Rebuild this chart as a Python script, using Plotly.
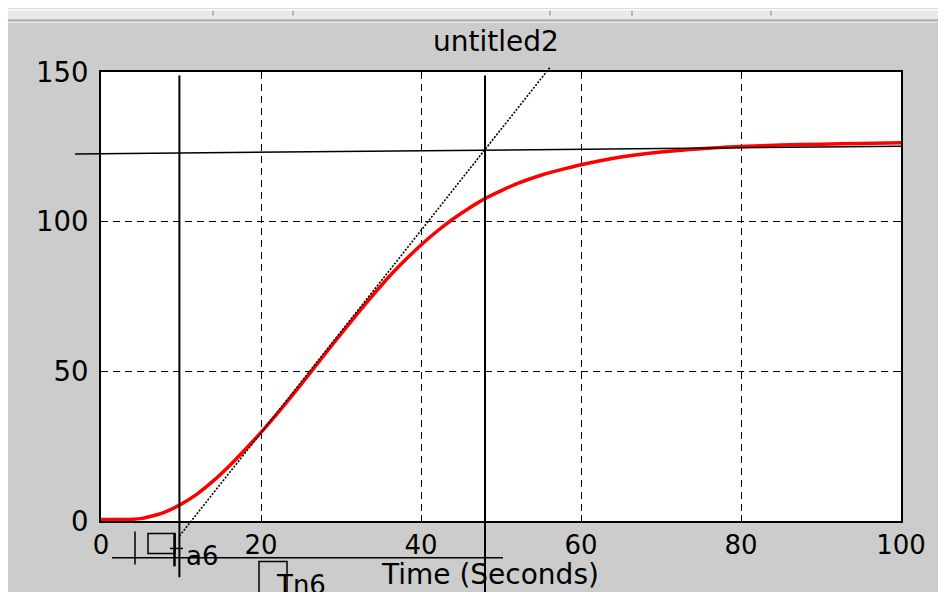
import plotly.graph_objects as go

# ---------------- data ----------------
TIME = [0, 2, 4, 5, 6, 8, 10, 12, 14, 16, 18, 20, 22, 24, 26, 28, 30, 32, 34, 36,
        38, 40, 42, 44, 46, 48, 50, 52, 55, 58, 60, 65, 70, 75, 80, 85, 90, 95, 100]
OUTPUT = [0.5, 0.5, 0.6, 0.8, 1.4, 3.0, 5.6, 9.0, 13.3, 18.3, 23.8, 29.6, 35.8, 42.3,
          49.0, 55.8, 62.5, 69.1, 75.5, 81.6, 87.1, 92.2, 96.8, 100.9, 104.5, 107.7,
          110.3, 112.7, 115.5, 117.7, 119.0, 121.6, 123.3, 124.4, 125.1, 125.6, 125.9,
          126.1, 126.4]

X_TICKS = [0, 20, 40, 60, 80, 100]
Y_TICKS = [0, 50, 100, 150]
X_RANGE = [0, 100]
Y_RANGE = [0, 150]

TITLE = "untitled2"
X_LABEL = "Time (Seconds)"

# construction lines (tangent method)
DEAD_TIME = 9.8            # vertical line 1
CROSS_TIME = 48.0          # vertical line 2 (tangent meets steady-state line)
CROSS_VALUE = 124.1
TANGENT_SLOPE = 3.38
TANGENT_T = [9.8, 56.2]
STEADY_T = [-3.25, 100]
STEADY_V = [122.6, 125.2]
VLINE_TOP = 148.8
VLINE1_BOTTOM = -18.8
VLINE2_BOTTOM = -26.0

# ---------------- layout geometry ----------------
# the page body has an 8px margin, so the figure starts at (8, 8) of the window
PAGE_OFF = 8
W, H = 946 - PAGE_OFF, 592 - PAGE_OFF
PLOT_L, PLOT_R, PLOT_T, PLOT_B = 101, 901, 71.5, 521.5   # window pixels
ML = PLOT_L - PAGE_OFF
MT = PLOT_T - PAGE_OFF
MR = 946 - PLOT_R
MB = 592 - PLOT_B
FONT = "DejaVu Sans"


def dxp(t):  # data x -> paper
    return (t - X_RANGE[0]) / (X_RANGE[1] - X_RANGE[0])


def dyp(v):  # data y -> paper
    return (v - Y_RANGE[0]) / (Y_RANGE[1] - Y_RANGE[0])


def pxp(px):  # window pixel x -> paper
    return (px - PLOT_L) / (PLOT_R - PLOT_L)


def pyp(py):  # window pixel y -> paper
    return (PLOT_B - py) / (PLOT_B - PLOT_T)


fig = go.Figure()
fig.add_trace(go.Scatter(x=TIME, y=OUTPUT, mode="lines",
                         line=dict(color="#ff0000", width=3.5, shape="spline", smoothing=0.8),
                         hoverinfo="skip", showlegend=False))

shapes = []


def seg(x0, y0, x1, y1, width=1.5, color="black", dash=None):
    d = dict(type="line", xref="paper", yref="paper", x0=x0, y0=y0, x1=x1, y1=y1,
             line=dict(color=color, width=width), layer="above")
    if dash:
        d["line"]["dash"] = dash
    shapes.append(d)


def rect(x0, y0, x1, y1, fill=None, line_w=0, line_c="black"):
    shapes.append(dict(type="rect", xref="paper", yref="paper", x0=x0, y0=y0, x1=x1, y1=y1,
                       fillcolor=fill if fill else "rgba(0,0,0,0)",
                       line=dict(width=line_w, color=line_c), layer="above"))


# window chrome
rect(pxp(PAGE_OFF), pyp(10), pxp(946), pyp(PAGE_OFF), fill="white")
rect(pxp(PAGE_OFF), pyp(19), pxp(946), pyp(10), fill="#e9e8ed")
rect(pxp(PAGE_OFF), pyp(21), pxp(946), pyp(19), fill="#a9a9b1")
rect(pxp(PAGE_OFF), pyp(22.5), pxp(946), pyp(21), fill="#e4e4e6")
for tx in [213, 293, 550, 632, 771]:
    seg(pxp(tx), pyp(10), pxp(tx), pyp(15), width=2, color="#b4b4bc")

# steady-state line
seg(dxp(STEADY_T[0]), dyp(STEADY_V[0]), dxp(STEADY_T[1]), dyp(STEADY_V[1]), width=1.5)
# vertical lines
seg(dxp(DEAD_TIME), dyp(VLINE_TOP), dxp(DEAD_TIME), dyp(VLINE1_BOTTOM), width=2)
seg(dxp(CROSS_TIME), dyp(VLINE_TOP), dxp(CROSS_TIME), dyp(VLINE2_BOTTOM), width=2)
# tangent
tv0 = CROSS_VALUE + TANGENT_SLOPE * (TANGENT_T[0] - CROSS_TIME)
tv1 = CROSS_VALUE + TANGENT_SLOPE * (TANGENT_T[1] - CROSS_TIME)
seg(dxp(TANGENT_T[0]), dyp(tv0), dxp(TANGENT_T[1]), dyp(tv1), width=1.6, dash="2px,1.5px")

# lower construction marks
seg(pxp(112), pyp(558.3), pxp(503), pyp(558.3), width=1.5)
seg(pxp(135), pyp(532), pxp(135), pyp(565), width=1.5)
rect(pxp(148), pyp(554), pxp(175), pyp(534), line_w=1.5)
seg(pxp(174.5), pyp(534), pxp(174.5), pyp(567), width=2.5)
seg(pxp(170), pyp(549), pxp(183), pyp(549), width=1.5)
rect(pxp(259), pyp(600), pxp(287), pyp(562), line_w=1.5)

annotations = [
    dict(text=TITLE, x=pxp(496), y=pyp(41), xref="paper", yref="paper",
         xanchor="center", yanchor="middle", showarrow=False,
         font=dict(family=FONT, size=28, color="black")),
    dict(text=X_LABEL, x=pxp(379), y=pyp(575), xref="paper", yref="paper",
         xanchor="left", yanchor="middle", showarrow=False,
         font=dict(family=FONT, size=28, color="black")),
    dict(text="a6", x=pxp(184), y=pyp(557), xref="paper", yref="paper",
         xanchor="left", yanchor="middle", showarrow=False,
         font=dict(family=FONT, size=26, color="black")),
    dict(text="Tn6", x=pxp(274), y=pyp(586), xref="paper", yref="paper",
         xanchor="left", yanchor="middle", showarrow=False,
         font=dict(family=FONT, size=26, color="black")),
]

axis_common = dict(
    showgrid=True, gridcolor="black", gridwidth=1, griddash="7px,5px",
    showline=True, linecolor="black", linewidth=2, mirror="ticks",
    ticks="inside", ticklen=6, tickcolor="black", tickwidth=1,
    zeroline=False, fixedrange=True,
)

fig.update_layout(
    width=W, height=H,
    margin=dict(l=ML, r=MR, t=MT, b=MB, pad=0, autoexpand=False),
    paper_bgcolor="#cccccc", plot_bgcolor="white",
    xaxis=dict(range=X_RANGE, tickvals=X_TICKS, ticklabelstandoff=0,
               tickfont=dict(family=FONT, size=26, color="black"), **axis_common),
    yaxis=dict(range=Y_RANGE, tickvals=Y_TICKS, ticklabelstandoff=5,
               tickfont=dict(family=FONT, size=27.5, color="black"), **axis_common),
    shapes=shapes, annotations=annotations, showlegend=False,
)

fig.write_html("out.html")
